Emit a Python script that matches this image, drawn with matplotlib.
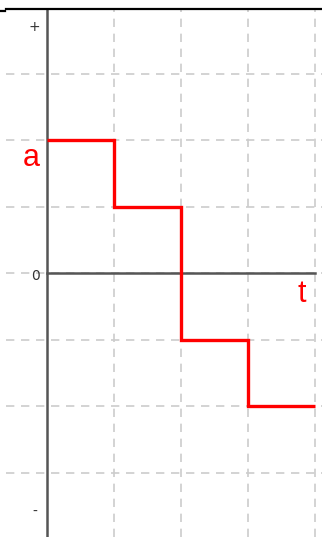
import numpy as np
import matplotlib.pyplot as plt

# step function a(t)
t_edges = [0, 1, 2, 3, 4]
a_vals = [2, 1, -1, -2]
grid_x = [1, 2, 3, 4]
grid_y = [-3, -2, -1, 0, 1, 2, 3]

px_x = 67.0   # pixels per unit
px_y = 66.5
x0, y0 = 47, 273  # origin in pixels

W, H = 322, 537
fig = plt.figure(figsize=(W / 100, H / 100), dpi=100)
ax = fig.add_axes([0, 0, 1, 1])
ax.set_xlim(-x0 / px_x, (W - x0) / px_x)
ax.set_ylim(-(H - y0) / px_y, y0 / px_y)
ax.axis('off')

top = (y0 - 9) / px_y
left = (6 - x0) / px_x
right = (W - x0) / px_x
bottom = -(H - y0) / px_y

gridc = '#cccccc'
for gx in grid_x:
    ax.plot([gx, gx], [bottom, top], color=gridc, lw=1.2, ls=(0, (5, 4)), zorder=1)
for gy in grid_y:
    ax.plot([left, right], [gy, gy], color=gridc, lw=1.2, ls=(0, (5, 4)), zorder=1)

# axes lines
ax.plot([0, 0], [bottom, top], color='#555555', lw=1.8, zorder=2)
ax.plot([0, 4], [0, 0], color='#555555', lw=1.8, zorder=2)
# top frame line
ax.plot([left, right], [top, top], color='black', lw=1.6, zorder=3)
ax.plot([-x0 / px_x, (5 - x0) / px_x], [(y0 - 10.5) / px_y] * 2, color='black', lw=1.6, zorder=3)

# step line
ax.stairs(a_vals, t_edges, color='#ff0000', lw=2.4, baseline=None, zorder=4)

# labels
ax.text((34 - x0) / px_x, (y0 - 27) / px_y, '+', fontsize=10, color='#333333',
        ha='center', va='center', family='DejaVu Sans')
ax.text((35 - x0) / px_x, (y0 - 276) / px_y, '0', fontsize=10, color='#333333',
        ha='center', va='center', family='DejaVu Sans')
ax.text((35 - x0) / px_x, (y0 - 512) / px_y, '-', fontsize=10, color='#333333',
        ha='center', va='center', family='DejaVu Sans')
ax.text((31.5 - x0) / px_x, (y0 - 158) / px_y, 'a', fontsize=22, color='#ff0000',
        ha='center', va='center', family='Liberation Sans')
ax.text((301.5 - x0) / px_x, (y0 - 294) / px_y, 't', fontsize=22, color='#ff0000',
        ha='center', va='center', family='Liberation Sans')

fig.savefig('out.png', dpi=100)
